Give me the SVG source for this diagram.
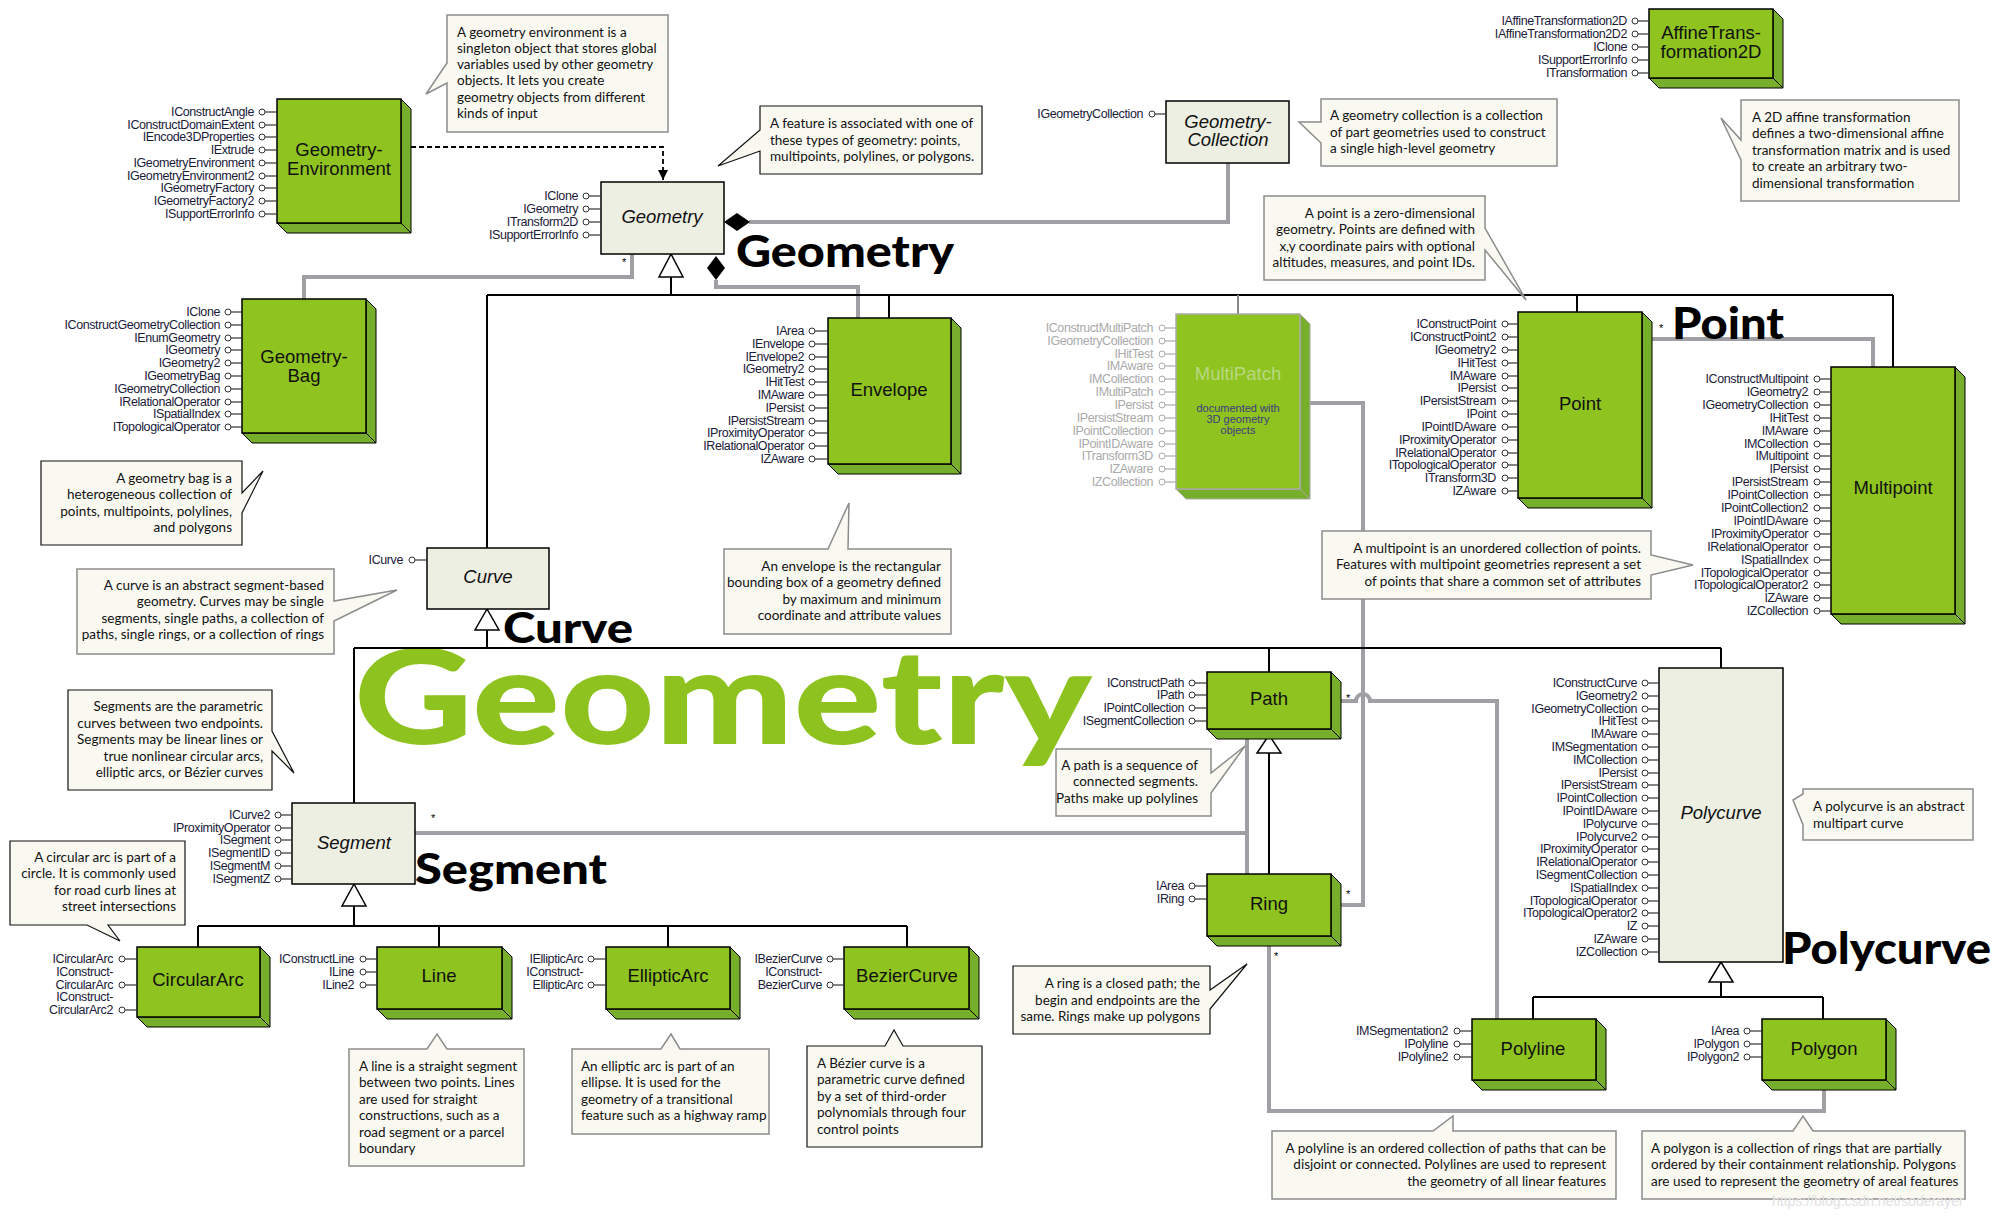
<svg xmlns="http://www.w3.org/2000/svg" width="1998" height="1218" viewBox="0 0 1998 1218">
<defs>
<style>
.nf{fill:#8fc31f;stroke:#000;stroke-width:1.5}
.ns{fill:#77ae2c;stroke:#000;stroke-width:1}
.gf{fill:#8fc31f;stroke:#aaa;stroke-width:1.5}
.gs{fill:#77ae2c;stroke:#aaa;stroke-width:1}
.ab{fill:#eeefe3;stroke:#000;stroke-width:1.5}
.it{font-family:"Liberation Sans",Arial,sans-serif;font-size:12.5px;letter-spacing:-0.4px;fill:#1a1a3a;text-anchor:end}
.itg{font-family:"Liberation Sans",Arial,sans-serif;font-size:12.5px;letter-spacing:-0.4px;fill:#aaaaaa;text-anchor:end}
.ic{fill:#fff;stroke:#333;stroke-width:1}
.il{stroke:#333;stroke-width:1.2}
.icg{fill:#fff;stroke:#aaa;stroke-width:1}
.ilg{stroke:#aaa;stroke-width:1.2}
.tt{font-family:"Liberation Sans",Arial,sans-serif;font-size:18.5px;text-anchor:middle;fill:#111}
.ti{font-family:"Liberation Sans",Arial,sans-serif;font-size:18.5px;text-anchor:middle;fill:#111;font-style:italic}
.nt{fill:#f9f9f1;stroke:#8c8c8c;stroke-width:1.5}
.ntb{fill:#f9f9f1;stroke:#111;stroke-width:1.2}
.tx{font-family:Lato,"Open Sans",sans-serif;font-size:13.5px;fill:#111}
.tr{font-family:Lato,"Open Sans",sans-serif;font-size:13.5px;fill:#111;text-anchor:end}
.g{fill:none;stroke:#a0a0a4;stroke-width:4}
.k{fill:none;stroke:#000;stroke-width:2}
.tri{fill:#fff;stroke:#000;stroke-width:1.5}
.big{font-family:Lato,"Open Sans",sans-serif;font-weight:900;fill:#000}
.star{font-family:"Liberation Sans",Arial,sans-serif;font-size:11px;fill:#000}
</style>
<marker id="arr" markerWidth="12" markerHeight="12" refX="10" refY="5" orient="auto" markerUnits="userSpaceOnUse">
<path d="M0,0 L10,5 L0,10 Z" fill="#000"/>
</marker>
</defs>
<rect width="1998" height="1218" fill="#fff"/>

<!-- big green title -->
<text x="354" y="744" font-family="Lato, 'Open Sans', sans-serif" font-weight="900" font-size="132" fill="#8dc21f" textLength="738" lengthAdjust="spacingAndGlyphs">Geometry</text>

<g id="connectors">
<!-- gray composition lines -->
<path class="g" d="M749,222 H1228 V163"/>
<path class="g" d="M716,280 V287 H858 V318"/>
<path class="g" d="M632,254 V277 H304 V299"/>
<path class="g" d="M1652,339 H1873 V367"/>
<path class="g" d="M415,833 H1247"/>
<path class="g" d="M1247,739 V874"/>
<path class="g" d="M1310,403 H1363 V905 H1341"/>
<path class="g" d="M1341,701 H1356 A7,7 0 0 1 1370,701 H1497 V1019"/>
<path class="g" d="M1269,946 V1111 H1824 V1090"/>
<!-- generalization: Geometry -->
<path class="k" d="M671,277 V295 M487,295 H1893 M487,295 V548 M889,295 V318 M1577,295 V312 M1893,295 V367"/>
<path d="M1238,295 V314" fill="none" stroke="#888" stroke-width="2"/>
<polygon class="tri" points="671,254 659,277 683,277"/>
<!-- generalization: Curve -->
<path class="k" d="M487,630 V648 M354,648 H1721 M354,648 V803 M1269,648 V672 M1721,648 V668"/>
<polygon class="tri" points="487,609 475,630 499,630"/>
<!-- generalization: Path -> Ring -->
<path class="k" d="M1269,753 V874"/>
<polygon class="tri" points="1269,735 1257,753 1281,753"/>
<!-- generalization: Segment -->
<path class="k" d="M354,906 V926 M198,926 H907 M198,926 V947 M439,926 V947 M668,926 V947 M907,926 V947"/>
<polygon class="tri" points="354,884 342,906 366,906"/>
<!-- generalization: Polycurve -->
<path class="k" d="M1721,982 V997 M1533,997 H1823 M1533,997 V1019 M1823,997 V1019"/>
<polygon class="tri" points="1721,962 1709,982 1733,982"/>
<!-- dependency from GeometryEnvironment -->
<path d="M411,147 H663 V180" fill="none" stroke="#000" stroke-width="1.8" stroke-dasharray="5,3" marker-end="url(#arr)"/>
<!-- composition diamonds -->
<polygon points="724,222 737,213 750,222 737,231" fill="#000"/>
<polygon points="716,256 725,268 716,280 707,268" fill="#000"/>
<text class="star" x="622" y="266">*</text>
<text class="star" x="1659" y="332">*</text>
<text class="star" x="1346" y="702">*</text>
<text class="star" x="1346" y="898">*</text>
<text class="star" x="1274" y="960">*</text>
<text class="star" x="431" y="822">*</text>
</g>

<!-- GeometryEnvironment -->
<g id="GeometryEnvironment">
<polygon class="ns" points="401,99 411,109 411,233 401,223"/>
<polygon class="ns" points="277,223 401,223 411,233 287,233"/>
<rect class="nf" x="277" y="99" width="124" height="124"/>
<text class="tt" x="339" y="156">Geometry-</text>
<text class="tt" x="339" y="175">Environment</text>
<g>
<text class="it" x="254" y="116">IConstructAngle</text><circle class="ic" cx="262" cy="112" r="3"/><line class="il" x1="265" y1="112" x2="277" y2="112"/>
<text class="it" x="254" y="129">IConstructDomainExtent</text><circle class="ic" cx="262" cy="125" r="3"/><line class="il" x1="265" y1="125" x2="277" y2="125"/>
<text class="it" x="254" y="141">IEncode3DProperties</text><circle class="ic" cx="262" cy="137" r="3"/><line class="il" x1="265" y1="137" x2="277" y2="137"/>
<text class="it" x="254" y="154">IExtrude</text><circle class="ic" cx="262" cy="150" r="3"/><line class="il" x1="265" y1="150" x2="277" y2="150"/>
<text class="it" x="254" y="167">IGeometryEnvironment</text><circle class="ic" cx="262" cy="163" r="3"/><line class="il" x1="265" y1="163" x2="277" y2="163"/>
<text class="it" x="254" y="180">IGeometryEnvironment2</text><circle class="ic" cx="262" cy="176" r="3"/><line class="il" x1="265" y1="176" x2="277" y2="176"/>
<text class="it" x="254" y="192">IGeometryFactory</text><circle class="ic" cx="262" cy="188" r="3"/><line class="il" x1="265" y1="188" x2="277" y2="188"/>
<text class="it" x="254" y="205">IGeometryFactory2</text><circle class="ic" cx="262" cy="201" r="3"/><line class="il" x1="265" y1="201" x2="277" y2="201"/>
<text class="it" x="254" y="218">ISupportErrorInfo</text><circle class="ic" cx="262" cy="214" r="3"/><line class="il" x1="265" y1="214" x2="277" y2="214"/>
</g>
</g>

<!-- Geometry -->
<g id="Geometry">
<rect class="ab" x="601" y="182" width="123" height="72"/>
<text class="ti" x="662" y="223">Geometry</text>
<text class="it" x="578" y="200">IClone</text><circle class="ic" cx="586" cy="196" r="3"/><line class="il" x1="589" y1="196" x2="601" y2="196"/>
<text class="it" x="578" y="213">IGeometry</text><circle class="ic" cx="586" cy="209" r="3"/><line class="il" x1="589" y1="209" x2="601" y2="209"/>
<text class="it" x="578" y="226">ITransform2D</text><circle class="ic" cx="586" cy="222" r="3"/><line class="il" x1="589" y1="222" x2="601" y2="222"/>
<text class="it" x="578" y="239">ISupportErrorInfo</text><circle class="ic" cx="586" cy="235" r="3"/><line class="il" x1="589" y1="235" x2="601" y2="235"/>
</g>

<!-- GeometryCollection -->
<g id="GeometryCollection">
<rect class="ab" x="1166" y="101" width="123" height="62"/>
<text class="ti" x="1228" y="128">Geometry-</text>
<text class="ti" x="1228" y="146">Collection</text>
<text class="it" x="1143" y="118">IGeometryCollection</text><circle class="ic" cx="1152" cy="114" r="3"/><line class="il" x1="1155" y1="114" x2="1166" y2="114"/>
</g>

<!-- AffineTransformation2D -->
<g id="AffineTransformation2D">
<polygon class="ns" points="1773,9 1783,19 1783,88 1773,78"/>
<polygon class="ns" points="1649,78 1773,78 1783,88 1659,88"/>
<rect class="nf" x="1649" y="9" width="124" height="69"/>
<text class="tt" x="1711" y="39">AffineTrans-</text>
<text class="tt" x="1711" y="58">formation2D</text>
<text class="it" x="1627" y="25">IAffineTransformation2D</text><circle class="ic" cx="1635" cy="21" r="3"/><line class="il" x1="1638" y1="21" x2="1649" y2="21"/>
<text class="it" x="1627" y="38">IAffineTransformation2D2</text><circle class="ic" cx="1635" cy="34" r="3"/><line class="il" x1="1638" y1="34" x2="1649" y2="34"/>
<text class="it" x="1627" y="51">IClone</text><circle class="ic" cx="1635" cy="47" r="3"/><line class="il" x1="1638" y1="47" x2="1649" y2="47"/>
<text class="it" x="1627" y="64">ISupportErrorInfo</text><circle class="ic" cx="1635" cy="60" r="3"/><line class="il" x1="1638" y1="60" x2="1649" y2="60"/>
<text class="it" x="1627" y="77">ITransformation</text><circle class="ic" cx="1635" cy="73" r="3"/><line class="il" x1="1638" y1="73" x2="1649" y2="73"/>
</g>

<!-- GeometryBag -->
<g id="GeometryBag">
<polygon class="ns" points="366,299 376,309 376,443 366,433"/>
<polygon class="ns" points="242,433 366,433 376,443 252,443"/>
<rect class="nf" x="242" y="299" width="124" height="134"/>
<text class="tt" x="304" y="363">Geometry-</text>
<text class="tt" x="304" y="382">Bag</text>
<text class="it" x="220" y="316">IClone</text><circle class="ic" cx="228" cy="312" r="3"/><line class="il" x1="231" y1="312" x2="242" y2="312"/>
<text class="it" x="220" y="329">IConstructGeometryCollection</text><circle class="ic" cx="228" cy="325" r="3"/><line class="il" x1="231" y1="325" x2="242" y2="325"/>
<text class="it" x="220" y="342">IEnumGeometry</text><circle class="ic" cx="228" cy="338" r="3"/><line class="il" x1="231" y1="338" x2="242" y2="338"/>
<text class="it" x="220" y="354">IGeometry</text><circle class="ic" cx="228" cy="350" r="3"/><line class="il" x1="231" y1="350" x2="242" y2="350"/>
<text class="it" x="220" y="367">IGeometry2</text><circle class="ic" cx="228" cy="363" r="3"/><line class="il" x1="231" y1="363" x2="242" y2="363"/>
<text class="it" x="220" y="380">IGeometryBag</text><circle class="ic" cx="228" cy="376" r="3"/><line class="il" x1="231" y1="376" x2="242" y2="376"/>
<text class="it" x="220" y="393">IGeometryCollection</text><circle class="ic" cx="228" cy="389" r="3"/><line class="il" x1="231" y1="389" x2="242" y2="389"/>
<text class="it" x="220" y="406">IRelationalOperator</text><circle class="ic" cx="228" cy="402" r="3"/><line class="il" x1="231" y1="402" x2="242" y2="402"/>
<text class="it" x="220" y="418">ISpatialIndex</text><circle class="ic" cx="228" cy="414" r="3"/><line class="il" x1="231" y1="414" x2="242" y2="414"/>
<text class="it" x="220" y="431">ITopologicalOperator</text><circle class="ic" cx="228" cy="427" r="3"/><line class="il" x1="231" y1="427" x2="242" y2="427"/>
</g>

<!-- Envelope -->
<g id="Envelope">
<polygon class="ns" points="951,318 961,328 961,474 951,464"/>
<polygon class="ns" points="828,464 951,464 961,474 838,474"/>
<rect class="nf" x="828" y="318" width="123" height="146"/>
<text class="tt" x="889" y="396">Envelope</text>
<text class="it" x="804" y="335">IArea</text><circle class="ic" cx="812" cy="331" r="3"/><line class="il" x1="815" y1="331" x2="828" y2="331"/>
<text class="it" x="804" y="348">IEnvelope</text><circle class="ic" cx="812" cy="344" r="3"/><line class="il" x1="815" y1="344" x2="828" y2="344"/>
<text class="it" x="804" y="361">IEnvelope2</text><circle class="ic" cx="812" cy="357" r="3"/><line class="il" x1="815" y1="357" x2="828" y2="357"/>
<text class="it" x="804" y="373">IGeometry2</text><circle class="ic" cx="812" cy="369" r="3"/><line class="il" x1="815" y1="369" x2="828" y2="369"/>
<text class="it" x="804" y="386">IHitTest</text><circle class="ic" cx="812" cy="382" r="3"/><line class="il" x1="815" y1="382" x2="828" y2="382"/>
<text class="it" x="804" y="399">IMAware</text><circle class="ic" cx="812" cy="395" r="3"/><line class="il" x1="815" y1="395" x2="828" y2="395"/>
<text class="it" x="804" y="412">IPersist</text><circle class="ic" cx="812" cy="408" r="3"/><line class="il" x1="815" y1="408" x2="828" y2="408"/>
<text class="it" x="804" y="425">IPersistStream</text><circle class="ic" cx="812" cy="421" r="3"/><line class="il" x1="815" y1="421" x2="828" y2="421"/>
<text class="it" x="804" y="437">IProximityOperator</text><circle class="ic" cx="812" cy="433" r="3"/><line class="il" x1="815" y1="433" x2="828" y2="433"/>
<text class="it" x="804" y="450">IRelationalOperator</text><circle class="ic" cx="812" cy="446" r="3"/><line class="il" x1="815" y1="446" x2="828" y2="446"/>
<text class="it" x="804" y="463">IZAware</text><circle class="ic" cx="812" cy="459" r="3"/><line class="il" x1="815" y1="459" x2="828" y2="459"/>
</g>

<!-- MultiPatch (greyed) -->
<g id="MultiPatch">
<polygon class="gs" points="1300,314 1310,324 1310,499 1300,489"/>
<polygon class="gs" points="1176,489 1300,489 1310,499 1186,499"/>
<rect class="gf" x="1176" y="314" width="124" height="175"/>
<text class="tt" x="1238" y="380" style="fill:#b9d883">MultiPatch</text>
<text x="1238" y="412" font-family="Liberation Sans, Arial, sans-serif" font-size="11" text-anchor="middle" fill="#3d3a80">documented with</text>
<text x="1238" y="423" font-family="Liberation Sans, Arial, sans-serif" font-size="11" text-anchor="middle" fill="#3d3a80">3D geometry</text>
<text x="1238" y="434" font-family="Liberation Sans, Arial, sans-serif" font-size="11" text-anchor="middle" fill="#3d3a80">objects</text>
<text class="itg" x="1153" y="332">IConstructMultiPatch</text><circle class="icg" cx="1162" cy="328" r="3"/><line class="ilg" x1="1165" y1="328" x2="1176" y2="328"/>
<text class="itg" x="1153" y="345">IGeometryCollection</text><circle class="icg" cx="1162" cy="341" r="3"/><line class="ilg" x1="1165" y1="341" x2="1176" y2="341"/>
<text class="itg" x="1153" y="358">IHitTest</text><circle class="icg" cx="1162" cy="354" r="3"/><line class="ilg" x1="1165" y1="354" x2="1176" y2="354"/>
<text class="itg" x="1153" y="370">IMAware</text><circle class="icg" cx="1162" cy="366" r="3"/><line class="ilg" x1="1165" y1="366" x2="1176" y2="366"/>
<text class="itg" x="1153" y="383">IMCollection</text><circle class="icg" cx="1162" cy="379" r="3"/><line class="ilg" x1="1165" y1="379" x2="1176" y2="379"/>
<text class="itg" x="1153" y="396">IMultiPatch</text><circle class="icg" cx="1162" cy="392" r="3"/><line class="ilg" x1="1165" y1="392" x2="1176" y2="392"/>
<text class="itg" x="1153" y="409">IPersist</text><circle class="icg" cx="1162" cy="405" r="3"/><line class="ilg" x1="1165" y1="405" x2="1176" y2="405"/>
<text class="itg" x="1153" y="422">IPersistStream</text><circle class="icg" cx="1162" cy="418" r="3"/><line class="ilg" x1="1165" y1="418" x2="1176" y2="418"/>
<text class="itg" x="1153" y="435">IPointCollection</text><circle class="icg" cx="1162" cy="431" r="3"/><line class="ilg" x1="1165" y1="431" x2="1176" y2="431"/>
<text class="itg" x="1153" y="448">IPointIDAware</text><circle class="icg" cx="1162" cy="444" r="3"/><line class="ilg" x1="1165" y1="444" x2="1176" y2="444"/>
<text class="itg" x="1153" y="460">ITransform3D</text><circle class="icg" cx="1162" cy="456" r="3"/><line class="ilg" x1="1165" y1="456" x2="1176" y2="456"/>
<text class="itg" x="1153" y="473">IZAware</text><circle class="icg" cx="1162" cy="469" r="3"/><line class="ilg" x1="1165" y1="469" x2="1176" y2="469"/>
<text class="itg" x="1153" y="486">IZCollection</text><circle class="icg" cx="1162" cy="482" r="3"/><line class="ilg" x1="1165" y1="482" x2="1176" y2="482"/>
</g>

<!-- Point -->
<g id="Point">
<polygon class="ns" points="1642,312 1652,322 1652,508 1642,498"/>
<polygon class="ns" points="1518,498 1642,498 1652,508 1528,508"/>
<rect class="nf" x="1518" y="312" width="124" height="186"/>
<text class="tt" x="1580" y="410">Point</text>
<text class="it" x="1496" y="328">IConstructPoint</text><circle class="ic" cx="1505" cy="324" r="3"/><line class="il" x1="1508" y1="324" x2="1518" y2="324"/>
<text class="it" x="1496" y="341">IConstructPoint2</text><circle class="ic" cx="1505" cy="337" r="3"/><line class="il" x1="1508" y1="337" x2="1518" y2="337"/>
<text class="it" x="1496" y="354">IGeometry2</text><circle class="ic" cx="1505" cy="350" r="3"/><line class="il" x1="1508" y1="350" x2="1518" y2="350"/>
<text class="it" x="1496" y="367">IHitTest</text><circle class="ic" cx="1505" cy="363" r="3"/><line class="il" x1="1508" y1="363" x2="1518" y2="363"/>
<text class="it" x="1496" y="380">IMAware</text><circle class="ic" cx="1505" cy="376" r="3"/><line class="il" x1="1508" y1="376" x2="1518" y2="376"/>
<text class="it" x="1496" y="392">IPersist</text><circle class="ic" cx="1505" cy="388" r="3"/><line class="il" x1="1508" y1="388" x2="1518" y2="388"/>
<text class="it" x="1496" y="405">IPersistStream</text><circle class="ic" cx="1505" cy="401" r="3"/><line class="il" x1="1508" y1="401" x2="1518" y2="401"/>
<text class="it" x="1496" y="418">IPoint</text><circle class="ic" cx="1505" cy="414" r="3"/><line class="il" x1="1508" y1="414" x2="1518" y2="414"/>
<text class="it" x="1496" y="431">IPointIDAware</text><circle class="ic" cx="1505" cy="427" r="3"/><line class="il" x1="1508" y1="427" x2="1518" y2="427"/>
<text class="it" x="1496" y="444">IProximityOperator</text><circle class="ic" cx="1505" cy="440" r="3"/><line class="il" x1="1508" y1="440" x2="1518" y2="440"/>
<text class="it" x="1496" y="457">IRelationalOperator</text><circle class="ic" cx="1505" cy="453" r="3"/><line class="il" x1="1508" y1="453" x2="1518" y2="453"/>
<text class="it" x="1496" y="469">ITopologicalOperator</text><circle class="ic" cx="1505" cy="465" r="3"/><line class="il" x1="1508" y1="465" x2="1518" y2="465"/>
<text class="it" x="1496" y="482">ITransform3D</text><circle class="ic" cx="1505" cy="478" r="3"/><line class="il" x1="1508" y1="478" x2="1518" y2="478"/>
<text class="it" x="1496" y="495">IZAware</text><circle class="ic" cx="1505" cy="491" r="3"/><line class="il" x1="1508" y1="491" x2="1518" y2="491"/>
</g>

<!-- Multipoint -->
<g id="Multipoint">
<polygon class="ns" points="1955,367 1965,377 1965,624 1955,614"/>
<polygon class="ns" points="1831,614 1955,614 1965,624 1841,624"/>
<rect class="nf" x="1831" y="367" width="124" height="247"/>
<text class="tt" x="1893" y="494">Multipoint</text>
<text class="it" x="1808" y="383">IConstructMultipoint</text><circle class="ic" cx="1817" cy="379" r="3"/><line class="il" x1="1820" y1="379" x2="1831" y2="379"/>
<text class="it" x="1808" y="396">IGeometry2</text><circle class="ic" cx="1817" cy="392" r="3"/><line class="il" x1="1820" y1="392" x2="1831" y2="392"/>
<text class="it" x="1808" y="409">IGeometryCollection</text><circle class="ic" cx="1817" cy="405" r="3"/><line class="il" x1="1820" y1="405" x2="1831" y2="405"/>
<text class="it" x="1808" y="422">IHitTest</text><circle class="ic" cx="1817" cy="418" r="3"/><line class="il" x1="1820" y1="418" x2="1831" y2="418"/>
<text class="it" x="1808" y="435">IMAware</text><circle class="ic" cx="1817" cy="431" r="3"/><line class="il" x1="1820" y1="431" x2="1831" y2="431"/>
<text class="it" x="1808" y="448">IMCollection</text><circle class="ic" cx="1817" cy="444" r="3"/><line class="il" x1="1820" y1="444" x2="1831" y2="444"/>
<text class="it" x="1808" y="460">IMultipoint</text><circle class="ic" cx="1817" cy="456" r="3"/><line class="il" x1="1820" y1="456" x2="1831" y2="456"/>
<text class="it" x="1808" y="473">IPersist</text><circle class="ic" cx="1817" cy="469" r="3"/><line class="il" x1="1820" y1="469" x2="1831" y2="469"/>
<text class="it" x="1808" y="486">IPersistStream</text><circle class="ic" cx="1817" cy="482" r="3"/><line class="il" x1="1820" y1="482" x2="1831" y2="482"/>
<text class="it" x="1808" y="499">IPointCollection</text><circle class="ic" cx="1817" cy="495" r="3"/><line class="il" x1="1820" y1="495" x2="1831" y2="495"/>
<text class="it" x="1808" y="512">IPointCollection2</text><circle class="ic" cx="1817" cy="508" r="3"/><line class="il" x1="1820" y1="508" x2="1831" y2="508"/>
<text class="it" x="1808" y="525">IPointIDAware</text><circle class="ic" cx="1817" cy="521" r="3"/><line class="il" x1="1820" y1="521" x2="1831" y2="521"/>
<text class="it" x="1808" y="538">IProximityOperator</text><circle class="ic" cx="1817" cy="534" r="3"/><line class="il" x1="1820" y1="534" x2="1831" y2="534"/>
<text class="it" x="1808" y="551">IRelationalOperator</text><circle class="ic" cx="1817" cy="547" r="3"/><line class="il" x1="1820" y1="547" x2="1831" y2="547"/>
<text class="it" x="1808" y="564">ISpatialIndex</text><circle class="ic" cx="1817" cy="560" r="3"/><line class="il" x1="1820" y1="560" x2="1831" y2="560"/>
<text class="it" x="1808" y="577">ITopologicalOperator</text><circle class="ic" cx="1817" cy="573" r="3"/><line class="il" x1="1820" y1="573" x2="1831" y2="573"/>
<text class="it" x="1808" y="589">ITopologicalOperator2</text><circle class="ic" cx="1817" cy="585" r="3"/><line class="il" x1="1820" y1="585" x2="1831" y2="585"/>
<text class="it" x="1808" y="602">IZAware</text><circle class="ic" cx="1817" cy="598" r="3"/><line class="il" x1="1820" y1="598" x2="1831" y2="598"/>
<text class="it" x="1808" y="615">IZCollection</text><circle class="ic" cx="1817" cy="611" r="3"/><line class="il" x1="1820" y1="611" x2="1831" y2="611"/>
</g>

<!-- Curve -->
<g id="Curve">
<rect class="ab" x="427" y="548" width="122" height="61"/>
<text class="ti" x="488" y="583">Curve</text>
<text class="it" x="403" y="564">ICurve</text><circle class="ic" cx="412" cy="560" r="3"/><line class="il" x1="415" y1="560" x2="427" y2="560"/>
</g>

<!-- Path -->
<g id="Path">
<polygon class="ns" points="1331,672 1341,682 1341,739 1331,729"/>
<polygon class="ns" points="1207,729 1331,729 1341,739 1217,739"/>
<rect class="nf" x="1207" y="672" width="124" height="57"/>
<text class="tt" x="1269" y="705">Path</text>
<text class="it" x="1184" y="687">IConstructPath</text><circle class="ic" cx="1192" cy="683" r="3"/><line class="il" x1="1195" y1="683" x2="1207" y2="683"/>
<text class="it" x="1184" y="699">IPath</text><circle class="ic" cx="1192" cy="695" r="3"/><line class="il" x1="1195" y1="695" x2="1207" y2="695"/>
<text class="it" x="1184" y="712">IPointCollection</text><circle class="ic" cx="1192" cy="708" r="3"/><line class="il" x1="1195" y1="708" x2="1207" y2="708"/>
<text class="it" x="1184" y="725">ISegmentCollection</text><circle class="ic" cx="1192" cy="721" r="3"/><line class="il" x1="1195" y1="721" x2="1207" y2="721"/>
</g>

<!-- Ring -->
<g id="Ring">
<polygon class="ns" points="1331,874 1341,884 1341,946 1331,936"/>
<polygon class="ns" points="1207,936 1331,936 1341,946 1217,946"/>
<rect class="nf" x="1207" y="874" width="124" height="62"/>
<text class="tt" x="1269" y="910">Ring</text>
<text class="it" x="1184" y="890">IArea</text><circle class="ic" cx="1192" cy="886" r="3"/><line class="il" x1="1195" y1="886" x2="1207" y2="886"/>
<text class="it" x="1184" y="903">IRing</text><circle class="ic" cx="1192" cy="899" r="3"/><line class="il" x1="1195" y1="899" x2="1207" y2="899"/>
</g>

<!-- Polycurve -->
<g id="Polycurve">
<rect class="ab" x="1659" y="668" width="124" height="294"/>
<text class="ti" x="1721" y="819">Polycurve</text>
<text class="it" x="1637" y="687">IConstructCurve</text><circle class="ic" cx="1645" cy="683" r="3"/><line class="il" x1="1648" y1="683" x2="1659" y2="683"/>
<text class="it" x="1637" y="700">IGeometry2</text><circle class="ic" cx="1645" cy="696" r="3"/><line class="il" x1="1648" y1="696" x2="1659" y2="696"/>
<text class="it" x="1637" y="713">IGeometryCollection</text><circle class="ic" cx="1645" cy="709" r="3"/><line class="il" x1="1648" y1="709" x2="1659" y2="709"/>
<text class="it" x="1637" y="725">IHitTest</text><circle class="ic" cx="1645" cy="721" r="3"/><line class="il" x1="1648" y1="721" x2="1659" y2="721"/>
<text class="it" x="1637" y="738">IMAware</text><circle class="ic" cx="1645" cy="734" r="3"/><line class="il" x1="1648" y1="734" x2="1659" y2="734"/>
<text class="it" x="1637" y="751">IMSegmentation</text><circle class="ic" cx="1645" cy="747" r="3"/><line class="il" x1="1648" y1="747" x2="1659" y2="747"/>
<text class="it" x="1637" y="764">IMCollection</text><circle class="ic" cx="1645" cy="760" r="3"/><line class="il" x1="1648" y1="760" x2="1659" y2="760"/>
<text class="it" x="1637" y="777">IPersist</text><circle class="ic" cx="1645" cy="773" r="3"/><line class="il" x1="1648" y1="773" x2="1659" y2="773"/>
<text class="it" x="1637" y="789">IPersistStream</text><circle class="ic" cx="1645" cy="785" r="3"/><line class="il" x1="1648" y1="785" x2="1659" y2="785"/>
<text class="it" x="1637" y="802">IPointCollection</text><circle class="ic" cx="1645" cy="798" r="3"/><line class="il" x1="1648" y1="798" x2="1659" y2="798"/>
<text class="it" x="1637" y="815">IPointIDAware</text><circle class="ic" cx="1645" cy="811" r="3"/><line class="il" x1="1648" y1="811" x2="1659" y2="811"/>
<text class="it" x="1637" y="828">IPolycurve</text><circle class="ic" cx="1645" cy="824" r="3"/><line class="il" x1="1648" y1="824" x2="1659" y2="824"/>
<text class="it" x="1637" y="841">IPolycurve2</text><circle class="ic" cx="1645" cy="837" r="3"/><line class="il" x1="1648" y1="837" x2="1659" y2="837"/>
<text class="it" x="1637" y="853">IProximityOperator</text><circle class="ic" cx="1645" cy="849" r="3"/><line class="il" x1="1648" y1="849" x2="1659" y2="849"/>
<text class="it" x="1637" y="866">IRelationalOperator</text><circle class="ic" cx="1645" cy="862" r="3"/><line class="il" x1="1648" y1="862" x2="1659" y2="862"/>
<text class="it" x="1637" y="879">ISegmentCollection</text><circle class="ic" cx="1645" cy="875" r="3"/><line class="il" x1="1648" y1="875" x2="1659" y2="875"/>
<text class="it" x="1637" y="892">ISpatialIndex</text><circle class="ic" cx="1645" cy="888" r="3"/><line class="il" x1="1648" y1="888" x2="1659" y2="888"/>
<text class="it" x="1637" y="905">ITopologicalOperator</text><circle class="ic" cx="1645" cy="901" r="3"/><line class="il" x1="1648" y1="901" x2="1659" y2="901"/>
<text class="it" x="1637" y="917">ITopologicalOperator2</text><circle class="ic" cx="1645" cy="913" r="3"/><line class="il" x1="1648" y1="913" x2="1659" y2="913"/>
<text class="it" x="1637" y="930">IZ</text><circle class="ic" cx="1645" cy="926" r="3"/><line class="il" x1="1648" y1="926" x2="1659" y2="926"/>
<text class="it" x="1637" y="943">IZAware</text><circle class="ic" cx="1645" cy="939" r="3"/><line class="il" x1="1648" y1="939" x2="1659" y2="939"/>
<text class="it" x="1637" y="956">IZCollection</text><circle class="ic" cx="1645" cy="952" r="3"/><line class="il" x1="1648" y1="952" x2="1659" y2="952"/>
</g>

<!-- Segment -->
<g id="Segment">
<rect class="ab" x="292" y="803" width="123" height="81"/>
<text class="ti" x="354" y="849">Segment</text>
<text class="it" x="270" y="819">ICurve2</text><circle class="ic" cx="278" cy="815" r="3"/><line class="il" x1="281" y1="815" x2="292" y2="815"/>
<text class="it" x="270" y="832">IProximityOperator</text><circle class="ic" cx="278" cy="828" r="3"/><line class="il" x1="281" y1="828" x2="292" y2="828"/>
<text class="it" x="270" y="844">ISegment</text><circle class="ic" cx="278" cy="840" r="3"/><line class="il" x1="281" y1="840" x2="292" y2="840"/>
<text class="it" x="270" y="857">ISegmentID</text><circle class="ic" cx="278" cy="853" r="3"/><line class="il" x1="281" y1="853" x2="292" y2="853"/>
<text class="it" x="270" y="870">ISegmentM</text><circle class="ic" cx="278" cy="866" r="3"/><line class="il" x1="281" y1="866" x2="292" y2="866"/>
<text class="it" x="270" y="883">ISegmentZ</text><circle class="ic" cx="278" cy="879" r="3"/><line class="il" x1="281" y1="879" x2="292" y2="879"/>
</g>

<!-- CircularArc -->
<g id="CircularArc">
<polygon class="ns" points="260,947 270,957 270,1027 260,1017"/>
<polygon class="ns" points="137,1017 260,1017 270,1027 147,1027"/>
<rect class="nf" x="137" y="947" width="123" height="70"/>
<text class="tt" x="198" y="986">CircularArc</text>
<text class="it" x="113" y="963">ICircularArc</text><circle class="ic" cx="122" cy="959" r="3"/><line class="il" x1="125" y1="959" x2="137" y2="959"/>
<text class="it" x="113" y="976">IConstruct-</text>
<text class="it" x="113" y="989">CircularArc</text><circle class="ic" cx="122" cy="985" r="3"/><line class="il" x1="125" y1="985" x2="137" y2="985"/>
<text class="it" x="113" y="1001">IConstruct-</text>
<text class="it" x="113" y="1014">CircularArc2</text><circle class="ic" cx="122" cy="1010" r="3"/><line class="il" x1="125" y1="1010" x2="137" y2="1010"/>
</g>

<!-- Line -->
<g id="Line">
<polygon class="ns" points="502,947 512,957 512,1019 502,1009"/>
<polygon class="ns" points="377,1009 502,1009 512,1019 387,1019"/>
<rect class="nf" x="377" y="947" width="125" height="62"/>
<text class="tt" x="439" y="982">Line</text>
<text class="it" x="354" y="963">IConstructLine</text><circle class="ic" cx="363" cy="959" r="3"/><line class="il" x1="366" y1="959" x2="377" y2="959"/>
<text class="it" x="354" y="976">ILine</text><circle class="ic" cx="363" cy="972" r="3"/><line class="il" x1="366" y1="972" x2="377" y2="972"/>
<text class="it" x="354" y="989">ILine2</text><circle class="ic" cx="363" cy="985" r="3"/><line class="il" x1="366" y1="985" x2="377" y2="985"/>
</g>

<!-- EllipticArc -->
<g id="EllipticArc">
<polygon class="ns" points="730,947 740,957 740,1019 730,1009"/>
<polygon class="ns" points="606,1009 730,1009 740,1019 616,1019"/>
<rect class="nf" x="606" y="947" width="124" height="62"/>
<text class="tt" x="668" y="982">EllipticArc</text>
<text class="it" x="583" y="963">IEllipticArc</text><circle class="ic" cx="591" cy="959" r="3"/><line class="il" x1="594" y1="959" x2="606" y2="959"/>
<text class="it" x="583" y="976">IConstruct-</text>
<text class="it" x="583" y="989">EllipticArc</text><circle class="ic" cx="591" cy="985" r="3"/><line class="il" x1="594" y1="985" x2="606" y2="985"/>
</g>

<!-- BezierCurve -->
<g id="BezierCurve">
<polygon class="ns" points="969,947 979,957 979,1019 969,1009"/>
<polygon class="ns" points="844,1009 969,1009 979,1019 854,1019"/>
<rect class="nf" x="844" y="947" width="125" height="62"/>
<text class="tt" x="907" y="982">BezierCurve</text>
<text class="it" x="822" y="963">IBezierCurve</text><circle class="ic" cx="830" cy="959" r="3"/><line class="il" x1="833" y1="959" x2="844" y2="959"/>
<text class="it" x="822" y="976">IConstruct-</text>
<text class="it" x="822" y="989">BezierCurve</text><circle class="ic" cx="830" cy="985" r="3"/><line class="il" x1="833" y1="985" x2="844" y2="985"/>
</g>

<!-- Polyline -->
<g id="Polyline">
<polygon class="ns" points="1596,1019 1606,1029 1606,1090 1596,1080"/>
<polygon class="ns" points="1472,1080 1596,1080 1606,1090 1482,1090"/>
<rect class="nf" x="1472" y="1019" width="124" height="61"/>
<text class="tt" x="1533" y="1055">Polyline</text>
<text class="it" x="1448" y="1035">IMSegmentation2</text><circle class="ic" cx="1457" cy="1031" r="3"/><line class="il" x1="1460" y1="1031" x2="1472" y2="1031"/>
<text class="it" x="1448" y="1048">IPolyline</text><circle class="ic" cx="1457" cy="1044" r="3"/><line class="il" x1="1460" y1="1044" x2="1472" y2="1044"/>
<text class="it" x="1448" y="1061">IPolyline2</text><circle class="ic" cx="1457" cy="1057" r="3"/><line class="il" x1="1460" y1="1057" x2="1472" y2="1057"/>
</g>

<!-- Polygon -->
<g id="Polygon">
<polygon class="ns" points="1886,1019 1896,1029 1896,1090 1886,1080"/>
<polygon class="ns" points="1762,1080 1886,1080 1896,1090 1772,1090"/>
<rect class="nf" x="1762" y="1019" width="124" height="61"/>
<text class="tt" x="1824" y="1055">Polygon</text>
<text class="it" x="1739" y="1035">IArea</text><circle class="ic" cx="1747" cy="1031" r="3"/><line class="il" x1="1750" y1="1031" x2="1762" y2="1031"/>
<text class="it" x="1739" y="1048">IPolygon</text><circle class="ic" cx="1747" cy="1044" r="3"/><line class="il" x1="1750" y1="1044" x2="1762" y2="1044"/>
<text class="it" x="1739" y="1061">IPolygon2</text><circle class="ic" cx="1747" cy="1057" r="3"/><line class="il" x1="1750" y1="1057" x2="1762" y2="1057"/>
</g>

<!-- big black titles -->
<g id="titles">
<text class="big" x="736" y="267" font-size="43" textLength="218" lengthAdjust="spacingAndGlyphs">Geometry</text>
<text class="big" x="1672" y="339" font-size="43" textLength="112" lengthAdjust="spacingAndGlyphs">Point</text>
<text class="big" x="503" y="643" font-size="42" textLength="130" lengthAdjust="spacingAndGlyphs">Curve</text>
<text class="big" x="415" y="884" font-size="42" textLength="192" lengthAdjust="spacingAndGlyphs">Segment</text>
<text class="big" x="1782" y="964" font-size="43" textLength="209" lengthAdjust="spacingAndGlyphs">Polycurve</text>
</g>

<!-- notes -->
<g id="note-env">
<path class="nt" d="M447,15 H668 V132 H447 V83 L426,94 L447,63 Z"/>
<text class="tx" x="457" y="37">A geometry environment is a</text>
<text class="tx" x="457" y="53">singleton object that stores global</text>
<text class="tx" x="457" y="69">variables used by other geometry</text>
<text class="tx" x="457" y="85">objects. It lets you create</text>
<text class="tx" x="457" y="102">geometry objects from different</text>
<text class="tx" x="457" y="118">kinds of input</text>
</g>
<g id="note-feature">
<path class="ntb" d="M760,106 H982 V174 H760 V151 L718,166 L760,130 Z"/>
<text class="tx" x="770" y="128">A feature is associated with one of</text>
<text class="tx" x="770" y="145">these types of geometry: points,</text>
<text class="tx" x="770" y="161">multipoints, polylines, or polygons.</text>
</g>
<g id="note-collection">
<path class="nt" d="M1321,99 H1557 V166 H1321 V143 L1299,122 L1321,122 Z"/>
<text class="tx" x="1330" y="120">A geometry collection is a collection</text>
<text class="tx" x="1330" y="137">of part geometries used to construct</text>
<text class="tx" x="1330" y="153">a single high-level geometry</text>
</g>
<g id="note-affine">
<path class="nt" d="M1741,100 H1959 V201 H1741 V160 L1721,118 L1741,140 Z"/>
<text class="tx" x="1752" y="122">A 2D affine transformation</text>
<text class="tx" x="1752" y="138">defines a two-dimensional affine</text>
<text class="tx" x="1752" y="155">transformation matrix and is used</text>
<text class="tx" x="1752" y="171">to create an arbitrary two-</text>
<text class="tx" x="1752" y="188">dimensional transformation</text>
</g>
<g id="note-point">
<path class="nt" d="M1264,196 H1485 V228 L1526,300 L1485,250 V280 H1264 Z"/>
<text class="tr" x="1475" y="218">A point is a zero-dimensional</text>
<text class="tr" x="1475" y="234">geometry. Points are defined with</text>
<text class="tr" x="1475" y="251">x,y coordinate pairs with optional</text>
<text class="tr" x="1475" y="267">altitudes, measures, and point IDs.</text>
</g>
<g id="note-bag">
<path class="ntb" d="M41,461 H242 V493 L263,471 L242,513 V545 H41 Z"/>
<text class="tr" x="232" y="483">A geometry bag is a</text>
<text class="tr" x="232" y="499">heterogeneous collection of</text>
<text class="tr" x="232" y="516">points, multipoints, polylines,</text>
<text class="tr" x="232" y="532">and polygons</text>
</g>
<g id="note-curve">
<path class="nt" d="M77,569 H334 V601 L397,590 L334,621 V654 H77 Z"/>
<text class="tr" x="324" y="590">A curve is an abstract segment-based</text>
<text class="tr" x="324" y="606">geometry.  Curves may be single</text>
<text class="tr" x="324" y="623">segments, single paths, a collection of</text>
<text class="tr" x="324" y="639">paths, single rings, or a collection of rings</text>
</g>
<g id="note-segments">
<path class="ntb" d="M68,690 H272 V731 L294,773 L272,751 V790 H68 Z"/>
<text class="tr" x="263" y="711">Segments are the parametric</text>
<text class="tr" x="263" y="728">curves between two endpoints.</text>
<text class="tr" x="263" y="744">Segments may be linear lines or</text>
<text class="tr" x="263" y="761">true nonlinear circular arcs,</text>
<text class="tr" x="263" y="777">elliptic arcs, or Bézier curves</text>
</g>
<g id="note-envelope">
<path class="nt" d="M724,549 H828 L849,503 L848,549 H951 V634 H724 Z"/>
<text class="tr" x="941" y="571">An envelope is the rectangular</text>
<text class="tr" x="941" y="587">bounding box of a geometry defined</text>
<text class="tr" x="941" y="604">by maximum and minimum</text>
<text class="tr" x="941" y="620">coordinate and attribute values</text>
</g>
<g id="note-multipoint">
<path class="nt" d="M1322,531 H1651 V555 L1693,565 L1651,575 V599 H1322 Z"/>
<text class="tr" x="1641" y="553">A multipoint is an unordered collection of points.</text>
<text class="tr" x="1641" y="569">Features with multipoint geometries represent a set</text>
<text class="tr" x="1641" y="586">of points that share a common set of attributes</text>
</g>
<g id="note-path">
<path class="nt" d="M1056,749 H1211 V773 L1245,746 L1211,793 V816 H1056 Z"/>
<text class="tr" x="1198" y="770">A path is a sequence of</text>
<text class="tr" x="1198" y="786">connected segments.</text>
<text class="tr" x="1198" y="803">Paths make up polylines</text>
</g>
<g id="note-polycurve">
<path class="nt" d="M1803,789 H1973 V840 H1803 V825 L1793,800 L1803,794 Z"/>
<text class="tx" x="1813" y="811">A polycurve is an abstract</text>
<text class="tx" x="1813" y="828">multipart curve</text>
</g>
<g id="note-circulararc">
<path class="ntb" d="M10,841 H185 V925 H108 L120,941 L87,925 H10 Z"/>
<text class="tr" x="176" y="862">A circular arc is part of a</text>
<text class="tr" x="176" y="878">circle. It is commonly used</text>
<text class="tr" x="176" y="895">for road curb lines at</text>
<text class="tr" x="176" y="911">street intersections</text>
</g>
<g id="note-line">
<path class="nt" d="M349,1049 H427 L437,1034 L447,1049 H524 V1166 H349 Z"/>
<text class="tx" x="359" y="1071">A line is a straight segment</text>
<text class="tx" x="359" y="1087">between two points. Lines</text>
<text class="tx" x="359" y="1104">are used for straight</text>
<text class="tx" x="359" y="1120">constructions, such as a</text>
<text class="tx" x="359" y="1137">road segment or a parcel</text>
<text class="tx" x="359" y="1153">boundary</text>
</g>
<g id="note-elliptic">
<path class="nt" d="M572,1049 H661 L671,1034 L680,1049 H769 V1134 H572 Z"/>
<text class="tx" x="581" y="1071">An elliptic arc is part of an</text>
<text class="tx" x="581" y="1087">ellipse. It is used for the</text>
<text class="tx" x="581" y="1104">geometry of a transitional</text>
<text class="tx" x="581" y="1120">feature such as a highway ramp</text>
</g>
<g id="note-bezier">
<path class="ntb" d="M807,1046 H885 L894,1030 L903,1046 H982 V1147 H807 Z"/>
<text class="tx" x="817" y="1068">A Bézier curve is a</text>
<text class="tx" x="817" y="1084">parametric curve defined</text>
<text class="tx" x="817" y="1101">by a set of third-order</text>
<text class="tx" x="817" y="1117">polynomials through four</text>
<text class="tx" x="817" y="1134">control points</text>
</g>
<g id="note-ring">
<path class="ntb" d="M1013,966 H1210 V990 L1247,964 L1210,1009 V1034 H1013 Z"/>
<text class="tr" x="1200" y="988">A ring is a closed path; the</text>
<text class="tr" x="1200" y="1005">begin and endpoints are the</text>
<text class="tr" x="1200" y="1021">same. Rings make up polygons</text>
</g>
<g id="note-polyline">
<path class="nt" d="M1272,1131 H1433 L1453,1116 L1453,1131 H1616 V1199 H1272 Z"/>
<text class="tr" x="1606" y="1153">A polyline is an ordered collection of paths that can be</text>
<text class="tr" x="1606" y="1169">disjoint or connected. Polylines are used to represent</text>
<text class="tr" x="1606" y="1186">the geometry of all linear features</text>
</g>
<g id="note-polygon">
<path class="nt" d="M1642,1131 H1793 L1803,1116 L1813,1131 H1965 V1199 H1642 Z"/>
<text class="tx" x="1651" y="1153">A polygon is a collection of rings that are partially</text>
<text class="tx" x="1651" y="1169">ordered by their containment relationship. Polygons</text>
<text class="tx" x="1651" y="1186">are used to represent the geometry of areal features</text>
</g>

<text x="1772" y="1206" font-family="Liberation Sans, Arial, sans-serif" font-size="14" fill="#e2e2e2">https://blog.csdn.net/soderayer</text>
</svg>
